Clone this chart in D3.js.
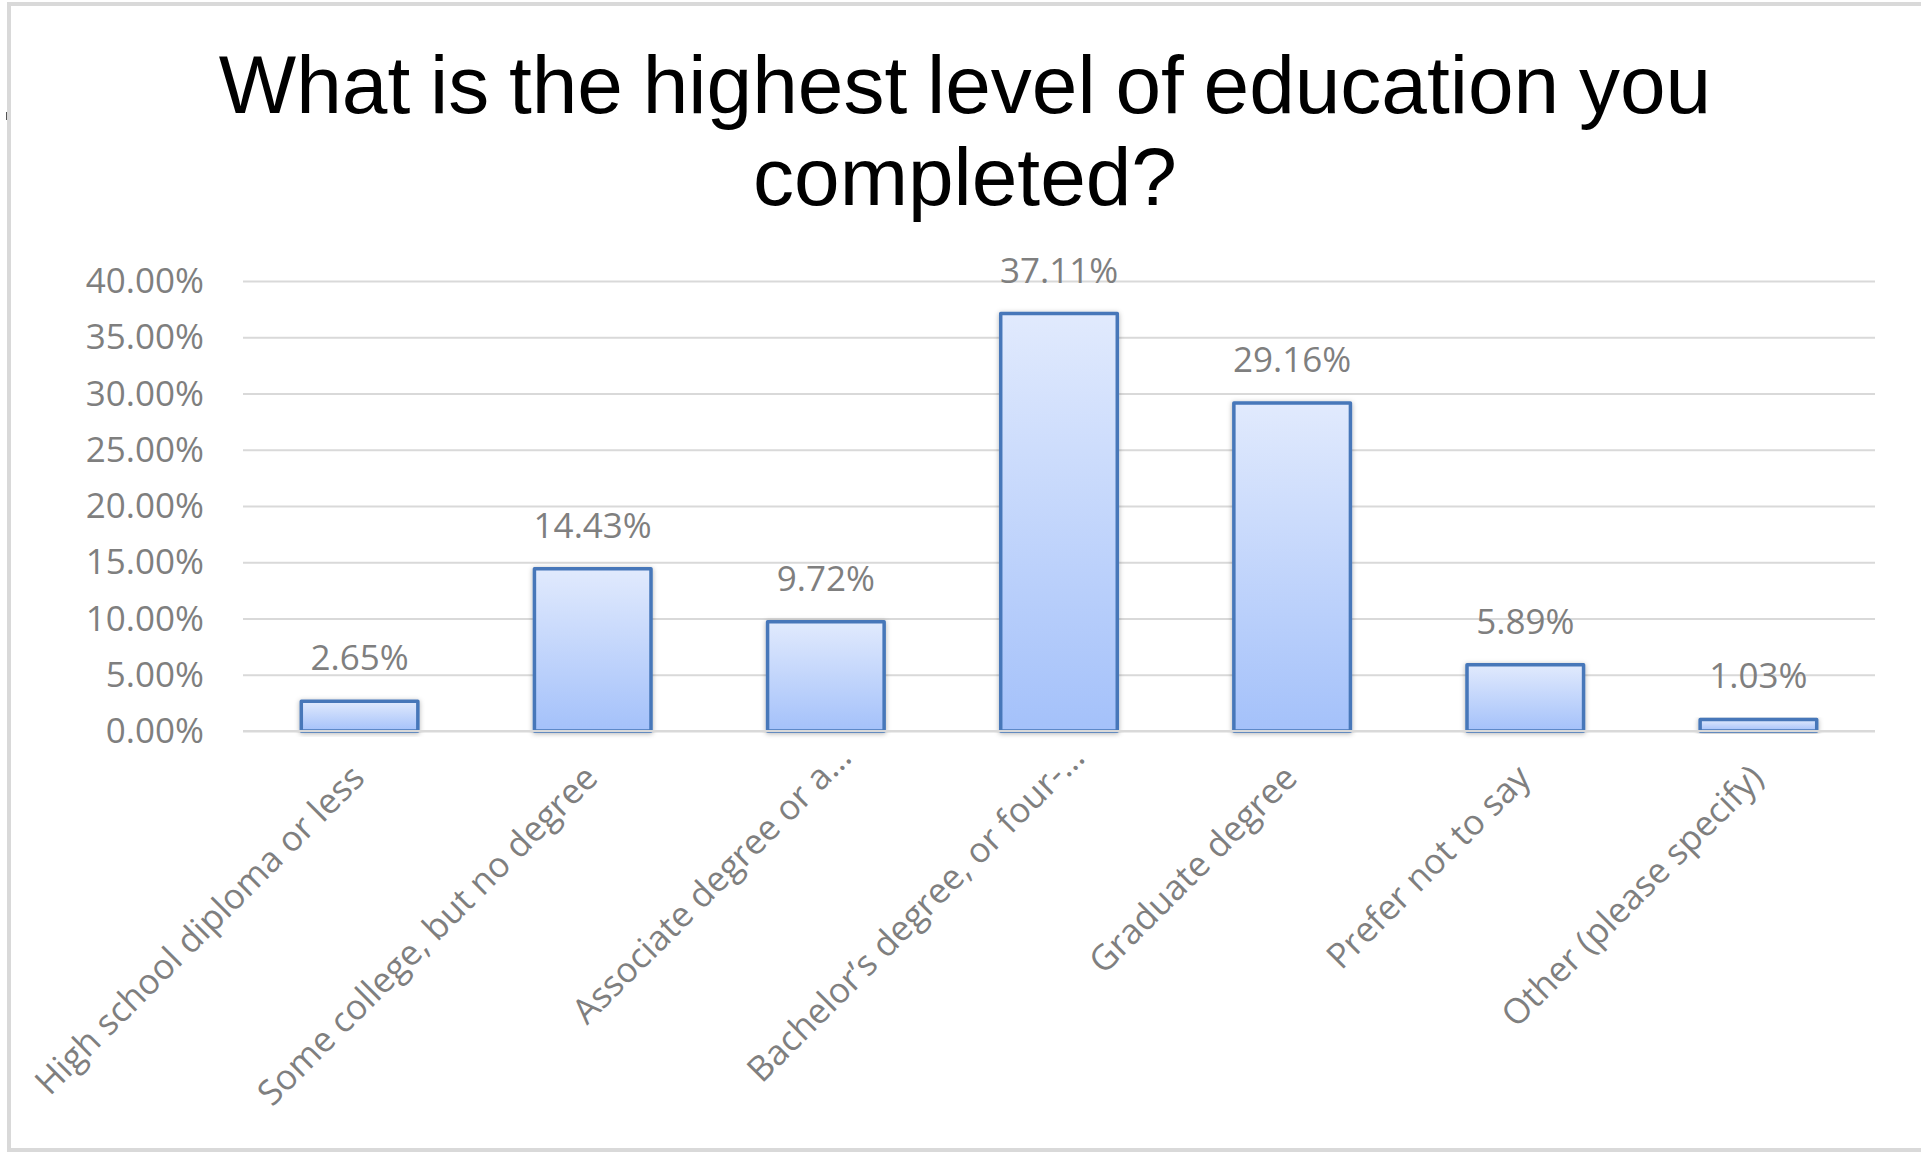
<!DOCTYPE html>
<html>
<head>
<meta charset="utf-8">
<script src="https://cdn.jsdelivr.net/npm/d3@7"></script>
<style>
  html, body { margin: 0; padding: 0; background: #ffffff; }
  svg { display: block; }
</style>
</head>
<body>
<svg id="chart" width="1921" height="1152"></svg>
<script>
// ---- data ----
const titleLines = ["What is the highest level of education you", "completed?"];
const categories = [
  "High school diploma or less",
  "Some college, but no degree",
  "Associate degree or a\u2026",
  "Bachelor\u2019s degree, or four-\u2026",
  "Graduate degree",
  "Prefer not to say",
  "Other (please specify)"
];
const values = [2.65, 14.43, 9.72, 37.11, 29.16, 5.89, 1.03];
const yTicks = [0, 5, 10, 15, 20, 25, 30, 35, 40];

// ---- layout ----
const svg = d3.select("#chart");
const plot = { left: 243, right: 1875, top: 281, bottom: 731 };
const textGray = "#7f7f7f";
const font = "'Open Sans', 'DejaVu Sans', sans-serif";

// frame
svg.append("rect")
  .attr("x", 9).attr("y", 4).attr("width", 1940).attr("height", 1146)
  .attr("fill", "#ffffff").attr("stroke", "#d9d9d9").attr("stroke-width", 4);
svg.append("line").attr("x1", 6.5).attr("x2", 6.5).attr("y1", 112).attr("y2", 120)
  .attr("stroke", "#555").attr("stroke-width", 1);

const defs = svg.append("defs");
const grad = defs.append("linearGradient").attr("id", "barGrad")
  .attr("x1", 0).attr("y1", 0).attr("x2", 0).attr("y2", 1);
grad.append("stop").attr("offset", "0%").attr("stop-color", "#e1eafd");
grad.append("stop").attr("offset", "100%").attr("stop-color", "#a4c1fa");
const f = defs.append("filter").attr("id", "shadow")
  .attr("x", "-20%").attr("y", "-20%").attr("width", "140%").attr("height", "140%");
f.append("feDropShadow").attr("dx", 0).attr("dy", 1).attr("stdDeviation", 2.5)
  .attr("flood-color", "#000").attr("flood-opacity", 0.3);

// scales
const x = d3.scaleBand().domain(categories)
  .range([plot.left, plot.right]).paddingInner(0.5).paddingOuter(0.25);
const y = d3.scaleLinear().domain([0, 40]).range([plot.bottom, plot.top]);

// title
svg.append("g").selectAll("text").data(titleLines).join("text")
  .attr("x", 965)
  .attr("y", (d, i) => 113 + i * 92)
  .attr("text-anchor", "middle")
  .attr("font-family", "'Liberation Sans', Arial, sans-serif")
  .attr("font-size", 82)
  .attr("word-spacing", -3)
  .attr("fill", "#000")
  .text(d => d);

// gridlines + y tick labels via axis
const yAxis = d3.axisLeft(y).tickValues(yTicks)
  .tickSize(-(plot.right - plot.left))
  .tickPadding(39)
  .tickFormat(d => d.toFixed(2) + "%");
const gy = svg.append("g").attr("transform", `translate(${plot.left},0)`).call(yAxis);
gy.select(".domain").remove();
gy.selectAll(".tick line").attr("stroke", "#d9d9d9").attr("stroke-width", 2.2);
gy.selectAll(".tick text")
  .attr("fill", textGray).attr("font-family", font).attr("font-size", 35)
  .attr("dy", "0.33em");

// bars
svg.append("g").selectAll("rect").data(values).join("rect")
  .attr("x", (d, i) => x(categories[i]))
  .attr("y", d => y(d))
  .attr("width", x.bandwidth())
  .attr("height", d => y(0) - y(d))
  .attr("fill", "url(#barGrad)")
  .attr("stroke", "#4677b9")
  .attr("stroke-width", 3.5)
  .attr("stroke-linejoin", "round")
  .attr("filter", "url(#shadow)");

// zero baseline over bars
svg.append("line")
  .attr("x1", plot.left).attr("x2", plot.right)
  .attr("y1", y(0)).attr("y2", y(0))
  .attr("stroke", "#d9d9d9").attr("stroke-width", 2.2);

// data labels
svg.append("g").selectAll("text").data(values).join("text")
  .attr("x", (d, i) => x(categories[i]) + x.bandwidth() / 2)
  .attr("y", d => y(d) - 31)
  .attr("text-anchor", "middle")
  .attr("fill", textGray).attr("font-family", font).attr("font-size", 35)
  .text(d => d.toFixed(2) + "%");

// x axis labels (rotated -45)
const xAxis = d3.axisBottom(x).tickSize(0).tickPadding(0);
const gx = svg.append("g").attr("transform", `translate(0,${plot.bottom})`).call(xAxis);
gx.select(".domain").remove();
gx.selectAll(".tick text")
  .attr("fill", textGray).attr("font-family", font).attr("font-size", 35)
  .attr("text-anchor", "end")
  .attr("y", 0).attr("dy", 0)
  .attr("dx", d => d.endsWith("\u2026") ? 29 : 0)
  .attr("transform", "translate(7,49) rotate(-45)");
</script>
</body>
</html>
